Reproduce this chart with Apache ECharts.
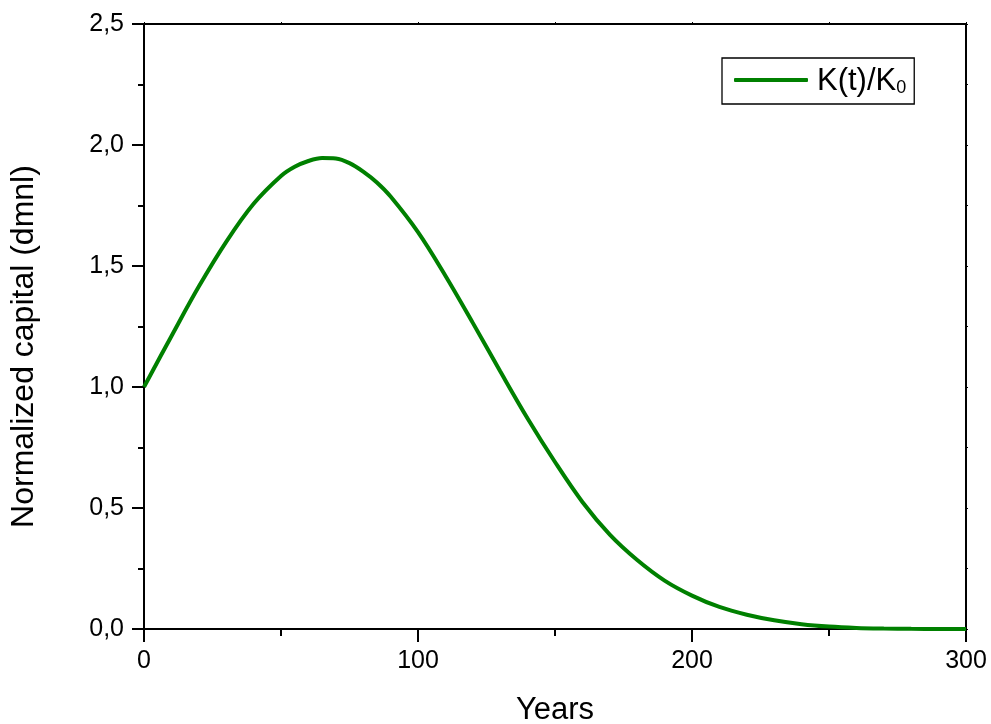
<!DOCTYPE html>
<html>
<head>
<meta charset="utf-8">
<script src="https://cdn.jsdelivr.net/npm/echarts@6/dist/echarts.min.js"></script>
<style>
html,body{margin:0;padding:0;background:#fff;}
#chart{width:991px;height:724px;}
</style>
</head>
<body>
<div id="chart"></div>
<script>
// Years
var years = [0, 10, 20, 30, 40, 50, 55, 60, 65, 70, 75, 80, 85, 90, 100, 110, 120, 130, 140, 150, 160, 170, 180, 190, 200, 210, 220, 230, 240, 250, 260, 270, 280, 290, 300];
// Normalized capital K(t)/K0
var capital = [1.00, 1.21, 1.415, 1.60, 1.757, 1.872, 1.91, 1.934, 1.946, 1.944, 1.925, 1.89, 1.845, 1.787, 1.64, 1.46, 1.265, 1.065, 0.87, 0.69, 0.525, 0.39, 0.285, 0.20, 0.138, 0.091, 0.059, 0.036, 0.020, 0.010, 0.0045, 0.002, 0.0008, 0.0003, 0.0];
var seriesName = 'K(t)/K0';
var xTitle = 'Years';
var yTitle = 'Normalized capital (dmnl)';

var data = years.map(function (y, i) { return [y, capital[i]]; });
var font = '"Liberation Sans", Arial, sans-serif';

var chart = echarts.init(document.getElementById('chart'), null, {renderer: 'canvas'});
chart.setOption({
  animation: false,
  backgroundColor: '#fff',
  grid: {left: 144, right: 25, top: 24, bottom: 95, containLabel: false, outerBoundsMode: 'none'},
  legend: {
    left: 722, top: 58,
    padding: [8, 8, 7, 12],
    borderColor: '#000', borderWidth: 1.3,
    itemWidth: 74, itemHeight: 4,
    icon: 'roundRect',
    data: [{name: seriesName, itemStyle: {color: '#008000'}}],
    formatter: function () { return '{a|K(t)/K}{b|0}'; },
    textStyle: {
      padding: [0, 0, 0, 4],
      rich: {
        a: {fontFamily: font, fontSize: 31, color: '#000', verticalAlign: 'bottom', lineHeight: 34},
        b: {fontFamily: font, fontSize: 18, color: '#000', verticalAlign: 'bottom', lineHeight: 6}
      }
    }
  },
  xAxis: [{
    type: 'value', min: 0, max: 300, interval: 100, position: 'bottom',
    name: xTitle, nameLocation: 'middle', nameGap: 66,
    nameTextStyle: {fontFamily: font, fontSize: 31, color: '#000'},
    axisLine: {show: true, onZero: false, lineStyle: {color: '#000', width: 2}},
    axisTick: {show: true, inside: false, length: 13, lineStyle: {color: '#000', width: 2}},
    minorTick: {show: true, splitNumber: 2, length: 7, lineStyle: {color: '#000', width: 2}},
    axisLabel: {fontFamily: font, fontSize: 25, color: '#000', margin: 20},
    splitLine: {show: false}
  }, {
    type: 'value', min: 0, max: 300, interval: 100, position: 'top',
    axisLine: {show: true, onZero: false, lineStyle: {color: '#000', width: 2}},
    axisTick: {show: true, inside: false, length: 2, lineStyle: {color: '#000', width: 1}},
    minorTick: {show: true, splitNumber: 2, length: 2, lineStyle: {color: '#000', width: 1}},
    axisLabel: {show: false},
    splitLine: {show: false}
  }],
  yAxis: [{
    type: 'value', min: 0, max: 2.5, interval: 0.5, position: 'left',
    name: yTitle, nameLocation: 'middle', nameGap: 104, nameRotate: 90,
    nameTextStyle: {fontFamily: font, fontSize: 32, color: '#000', padding: [0, 40, 0, 0]},
    axisLine: {show: true, onZero: false, lineStyle: {color: '#000', width: 2}},
    axisTick: {show: true, inside: false, length: 12, lineStyle: {color: '#000', width: 2}},
    minorTick: {show: true, splitNumber: 2, length: 6, lineStyle: {color: '#000', width: 2}},
    axisLabel: {
      fontFamily: font, fontSize: 25, color: '#000', margin: 20,
      formatter: function (v) { return v.toFixed(1).replace('.', ','); }
    },
    splitLine: {show: false}
  }, {
    type: 'value', min: 0, max: 2.5, interval: 0.5, position: 'right',
    axisLine: {show: true, onZero: false, lineStyle: {color: '#000', width: 2}},
    axisTick: {show: true, inside: false, length: 2, lineStyle: {color: '#000', width: 1}},
    minorTick: {show: true, splitNumber: 2, length: 2, lineStyle: {color: '#000', width: 1}},
    axisLabel: {show: false},
    splitLine: {show: false}
  }],
  series: [{
    name: seriesName,
    type: 'line',
    xAxisIndex: 0, yAxisIndex: 0,
    data: data,
    smooth: 0.35,
    showSymbol: false,
    symbol: 'none',
    lineStyle: {color: '#008000', width: 4},
    itemStyle: {color: '#008000'}
  }]
});
</script>
</body>
</html>
